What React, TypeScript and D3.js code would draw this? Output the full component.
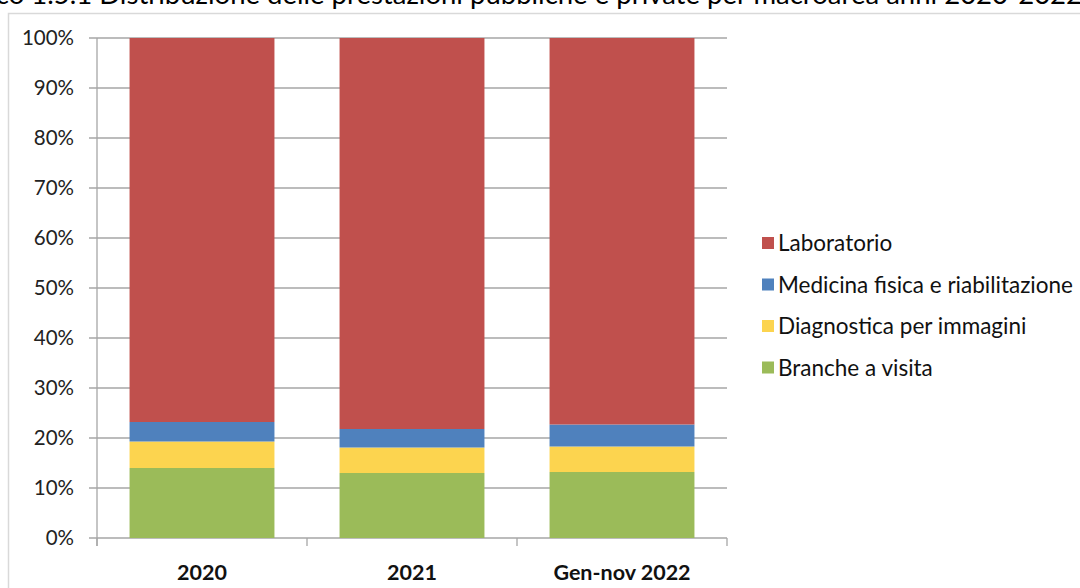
import React from "react";
import * as d3 from "d3";

const categories = ["2020", "2021", "Gen-nov 2022"];
const seriesNames = ["Branche a visita", "Diagnostica per immagini", "Medicina fisica e riabilitazione", "Laboratorio"];
const brancheVisita = [14.0, 13.0, 13.2];
const diagnostica = [5.3, 5.1, 5.1];
const medicinaFisica = [3.9, 3.7, 4.4];
const laboratorio = [76.8, 78.2, 77.3];
const colors = ["#9BBB59", "#FCD44F", "#4F81BD", "#C0504D"];
const yTicks = [0, 10, 20, 30, 40, 50, 60, 70, 80, 90, 100];
const legendOrder = ["Laboratorio", "Medicina fisica e riabilitazione", "Diagnostica per immagini", "Branche a visita"];
const title = "Grafico 1.5.1 Distribuzione delle prestazioni pubbliche e private per macroarea anni 2020-2022";

const W = 1080;
const H = 588;
const plot = { left: 97, right: 727, top: 38, bottom: 538 };
const font = "Lato, 'Open Sans', sans-serif";

export default function App() {
  const rows = categories.map((c, i) => ({
    cat: c,
    "Branche a visita": brancheVisita[i],
    "Diagnostica per immagini": diagnostica[i],
    "Medicina fisica e riabilitazione": medicinaFisica[i],
    Laboratorio: laboratorio[i],
  }));
  const stack = d3.stack<any>().keys(seriesNames);
  const stacked = stack(rows);
  const x = d3.scaleBand().domain(categories).range([plot.left, plot.right]).paddingInner(0.31).paddingOuter(0.155);
  const y = d3.scaleLinear().domain([0, 100]).range([plot.bottom, plot.top]);
  const color = d3.scaleOrdinal<string>().domain(seriesNames).range(colors);
  const step = (plot.right - plot.left) / categories.length;
  const xTicks = d3.range(categories.length + 1).map((i) => plot.left + i * step);

  return (
    <svg width={W} height={H} style={{ position: "absolute", left: 0, top: 0, background: "#fff" }}>
      <text x={1082} y={4} textAnchor="end" fontFamily={font} fontSize={27.5} fill="#000">
        {title}
      </text>
      <rect x={8.5} y={13.5} width={1100} height={600} fill="#fff" stroke="#d9d9d9" strokeWidth={1.5} />
      {yTicks.map((t) => (
        <g key={t}>
          <line x1={plot.left - 8} x2={plot.right} y1={y(t)} y2={y(t)} stroke="#a6a6a6" strokeWidth={1.3} />
          <text x={74} y={y(t)} dy="0.36em" textAnchor="end" fontFamily={font} fontSize={20.5} fill="#222">
            {t}%
          </text>
        </g>
      ))}
      <line x1={plot.left} x2={plot.left} y1={plot.top} y2={plot.bottom + 8} stroke="#a6a6a6" strokeWidth={1.3} />
      {xTicks.map((t, i) => (
        <line key={i} x1={t} x2={t} y1={plot.bottom} y2={plot.bottom + 8} stroke="#a6a6a6" strokeWidth={1.3} />
      ))}
      {stacked.map((s) => (
        <g key={s.key} fill={color(s.key)}>
          {s.map((d: any, i: number) => (
            <rect
              key={i}
              x={x(d.data.cat)}
              width={x.bandwidth()}
              y={y(d[1])}
              height={y(d[0]) - y(d[1])}
            />
          ))}
        </g>
      ))}
      {categories.map((c) => (
        <text
          key={c}
          x={(x(c) as number) + x.bandwidth() / 2}
          y={580}
          textAnchor="middle"
          fontFamily={font}
          fontWeight="bold"
          fontSize={21.5}
          fill="#111"
        >
          {c}
        </text>
      ))}
      {legendOrder.map((name, i) => (
        <g key={name} transform={`translate(762, ${243 + i * 41.5})`}>
          <rect x={0} y={-6} width={12} height={12} fill={color(name)} />
          <text x={16} y={0} dy="0.36em" fontFamily={font} fontSize={22.5} fill="#111">
            {name}
          </text>
        </g>
      ))}
    </svg>
  );
}
